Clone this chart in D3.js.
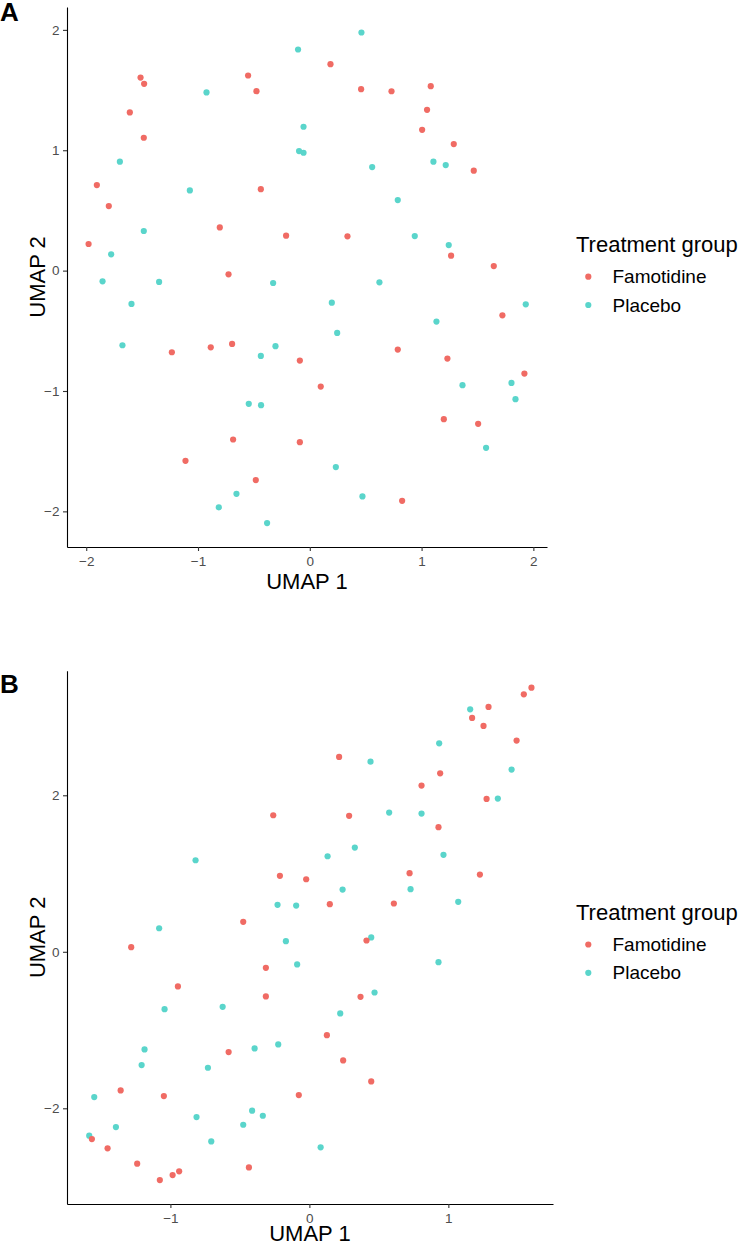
<!DOCTYPE html>
<html>
<head>
<meta charset="utf-8">
<script src="https://cdn.jsdelivr.net/npm/d3@7"></script>
<style>
  body { margin: 0; background: #fff; }
  svg { display: block; font-family: 'Liberation Sans', Arial, sans-serif; }
  .axis path { stroke: #000; stroke-width: 1.1px; }
  .axis line { stroke: #333; stroke-width: 1.1px; }
  .axis text { fill: #4d4d4d; font-size: 13.5px; font-family: 'Liberation Sans', Arial, sans-serif; }
</style>
</head>
<body>
<svg id="chart" width="741" height="1245"></svg>
<script>
/* global d3 */

// UMAP coordinates, [UMAP 1, UMAP 2]
const panelAFamotidine = [
  [-1.514, 1.604], [-1.482, 1.552], [-0.552, 1.621], [-0.477, 1.491], [-1.610, 1.314],
  [-1.485, 1.104], [-1.905, 0.711], [-1.798, 0.536], [-0.438, 0.677], [-0.805, 0.359],
  [-0.212, 0.290], [-1.979, 0.221], [0.185, 1.715], [0.459, 1.507], [0.731, 1.490],
  [1.082, 1.532], [1.049, 1.336], [1.005, 1.170], [1.288, 1.051], [1.467, 0.830],
  [0.337, 0.285], [1.264, 0.124], [1.646, 0.038], [-0.727, -0.031], [-1.234, -0.678],
  [-0.886, -0.637], [-0.695, -0.609], [-0.089, -0.747], [-0.686, -1.403], [-0.089, -1.425],
  [-1.112, -1.580], [-0.483, -1.740], [1.723, -0.371], [0.787, -0.656], [1.231, -0.731],
  [1.920, -0.855], [0.098, -0.963], [1.199, -1.234], [1.506, -1.273], [0.826, -1.912],
];
const panelAPlacebo = [
  [-0.105, 1.837], [-0.924, 1.480], [-0.056, 1.195], [-0.096, 0.993], [-0.056, 0.979],
  [-1.699, 0.905], [-1.073, 0.666], [-1.485, 0.329], [-1.777, 0.135], [0.462, 1.978],
  [1.106, 0.905], [1.216, 0.877], [0.558, 0.860], [0.787, 0.586], [0.939, 0.287],
  [1.243, 0.212], [-1.854, -0.089], [-1.348, -0.094], [-0.328, -0.103], [-1.595, -0.277],
  [-1.676, -0.620], [-0.307, -0.628], [-0.438, -0.709], [-0.546, -1.107], [-0.436, -1.118],
  [-0.656, -1.854], [-0.814, -1.967], [-0.382, -2.097], [0.623, -0.097], [0.197, -0.266],
  [1.932, -0.280], [1.133, -0.423], [0.245, -0.518], [1.366, -0.952], [1.804, -0.933],
  [1.840, -1.068], [1.577, -1.472], [0.233, -1.632], [0.471, -1.876],
];
const panelBFamotidine = [
  [-0.260, 1.745], [-0.212, 0.971], [-0.023, 0.927], [-0.476, 0.383], [-1.282, 0.059],
  [1.598, 3.375], [1.543, 3.290], [1.289, 3.129], [1.171, 2.989], [1.253, 2.886],
  [1.491, 2.699], [0.214, 2.490], [0.941, 2.281], [0.807, 2.124], [1.275, 1.954],
  [0.286, 1.737], [0.929, 1.592], [0.721, 1.004], [1.227, 0.987], [0.147, 0.608],
  [0.608, 0.617], [0.411, 0.144], [-0.313, -0.205], [-0.946, -0.443], [-0.313, -0.571],
  [-0.581, -1.282], [-1.358, -1.771], [-1.047, -1.844], [-0.076, -1.831], [-1.565, -2.393],
  [-1.452, -2.512], [-1.239, -2.708], [-0.435, -2.755], [-1.076, -2.917], [-0.984, -2.853],
  [-0.937, -2.806], [0.368, -0.575], [0.126, -1.065], [0.243, -1.388], [0.445, -1.657],
];
const panelBPlacebo = [
  [-0.819, 1.170], [-0.229, 0.600], [-0.095, 0.591], [-1.081, 0.301], [-0.169, 0.135],
  [1.157, 3.098], [0.934, 2.664], [0.440, 2.430], [1.455, 2.328], [1.356, 1.958],
  [0.574, 1.779], [0.807, 1.766], [0.327, 1.332], [0.131, 1.221], [0.965, 1.239],
  [0.239, 0.795], [0.728, 0.800], [1.071, 0.638], [0.445, 0.183], [-0.088, -0.162],
  [-1.042, -0.733], [-0.624, -0.703], [-1.186, -1.248], [-0.394, -1.235], [-0.224, -1.184],
  [-1.207, -1.448], [-0.730, -1.482], [-1.548, -1.857], [-0.812, -2.112], [-0.412, -2.031],
  [-0.335, -2.095], [-0.476, -2.210], [-1.392, -2.240], [-1.584, -2.350], [-0.706, -2.423],
  [0.929, -0.133], [0.469, -0.520], [0.222, -0.788], [0.081, -2.499],
];

const groups = ['Famotidine', 'Placebo'];
const panelATicksX = [-2, -1, 0, 1, 2];
const panelATicksY = [-2, -1, 0, 1, 2];
const panelBTicksX = [-1, 0, 1];
const panelBTicksY = [-2, 0, 2];

const colour = d3.scaleOrdinal()
  .domain(groups)
  .range(['#f06b64', '#5ad5cb']);

const tickFormat = d3.format('d');

const svg = d3.select('#chart');

const drawPanel = ({
  label, famotidine, placebo, xDomain, yDomain, xTicks, yTicks, box, labelY, xTitleY, legendY,
  }) => {
  const g = svg.append('g');

  const x = d3.scaleLinear()
    .domain(xDomain)
    .range([box.left, box.right]);

  const y = d3.scaleLinear()
    .domain(yDomain)
    .range([box.bottom, box.top]);

  g.append('g')
    .attr('class', 'axis x')
    .attr('transform', `translate(0,${box.bottom})`)
    .call(d3.axisBottom(x)
      .tickValues(xTicks)
      .tickFormat(tickFormat)
      .tickSize(4)
      .tickSizeOuter(0)
      .tickPadding(5.5));

  g.append('g')
    .attr('class', 'axis y')
    .attr('transform', `translate(${box.left},0)`)
    .call(d3.axisLeft(y)
      .tickValues(yTicks)
      .tickFormat(tickFormat)
      .tickSize(4)
      .tickSizeOuter(0)
      .tickPadding(3.5));

  // placebo first so famotidine sits on top where they overlap
  const points = [
    ...placebo.map(([u1, u2]) => ({ u1, u2, group: 'Placebo' })),
    ...famotidine.map(([u1, u2]) => ({ u1, u2, group: 'Famotidine' })),
  ];

  g.append('g')
    .selectAll('circle')
    .data(points)
    .enter().append('circle')
      .attr('cx', d => x(d.u1))
      .attr('cy', d => y(d.u2))
      .attr('r', 3.1)
      .attr('fill', d => colour(d.group));

  g.append('text')
    .text('UMAP 1')
    .attr('x', (box.left + box.right) / 2)
    .attr('y', xTitleY)
    .attr('text-anchor', 'middle')
    .style('font-size', '22px');

  g.append('text')
    .text('UMAP 2')
    .attr('transform', `translate(44.5,${(box.top + box.bottom) / 2}) rotate(-90)`)
    .attr('text-anchor', 'middle')
    .style('font-size', '22px');

  g.append('text')
    .text(label)
    .attr('x', 0)
    .attr('y', labelY)
    .style('font-size', '26px')
    .style('font-weight', 'bold');

  // legend
  const legend = g.append('g')
    .attr('transform', `translate(576,${legendY})`);

  legend.append('text')
    .text('Treatment group')
    .attr('x', 0)
    .attr('y', 0)
    .style('font-size', '22px');

  const entry = legend.selectAll('.entry')
    .data(groups)
    .enter().append('g')
      .attr('class', 'entry')
      .attr('transform', (d, i) => `translate(0,${25 + i * 28.3})`);

  entry.append('circle')
    .attr('cx', 12.3)
    .attr('cy', 0)
    .attr('r', 3.1)
    .attr('fill', d => colour(d));

  entry.append('text')
    .text(d => d)
    .attr('x', 36.5)
    .attr('y', 6.5)
    .style('font-size', '19px');
};

drawPanel({
  label: 'A',
  famotidine: panelAFamotidine,
  placebo: panelAPlacebo,
  xDomain: [-2.172, 2.122],
  yDomain: [-2.296, 2.190],
  xTicks: panelATicksX,
  yTicks: panelATicksY,
  box: { left: 67, right: 547, top: 7, bottom: 547 },
  labelY: 21,
  xTitleY: 589.3,
  legendY: 251.7,
});

drawPanel({
  label: 'B',
  famotidine: panelBFamotidine,
  placebo: panelBPlacebo,
  xDomain: [-1.744, 1.753],
  yDomain: [-3.223, 3.592],
  xTicks: panelBTicksX,
  yTicks: panelBTicksY,
  box: { left: 67, right: 553, top: 670.7, bottom: 1204 },
  labelY: 693.3,
  xTitleY: 1241,
  legendY: 919.5,
});
</script>
</body>
</html>
